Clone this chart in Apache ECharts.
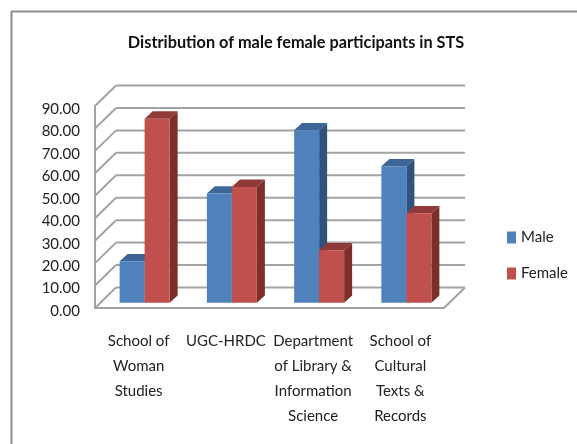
<!DOCTYPE html>
<html>
<head>
<meta charset="utf-8">
<style>
html, body { margin: 0; padding: 0; background: #fff; }
#chart { width: 577px; height: 444px; }
</style>
<script src="https://cdn.jsdelivr.net/npm/echarts@6/dist/echarts.min.js"></script>
</head>
<body>
<div id="chart"></div>
<script>
const categories = [
    'School of\nWoman\nStudies',
    'UGC-HRDC',
    'Department\nof Library &\nInformation\nScience',
    'School of\nCultural\nTexts &\nRecords'
]
const maleValues = [18.5, 48.6, 76.8, 60.8]
const femaleValues = [82, 51.6, 23.4, 39.8]
const yTicks = [0, 10, 20, 30, 40, 50, 60, 70, 80, 90]

const FONT = 'Lato, "Liberation Sans", sans-serif'
const GRAY = '#a3a3a3'

// pseudo-3d depth of the chart box and of the bars
const WALL_DX = 21
const WALL_DY = -20.5
const BAR_DX = 6
const BAR_DY = -5.3
const BAR_W = 25
const BAR_DEPTH_X = 8
const BAR_DEPTH_Y = -7.3

function wallItem(params, api) {
    const cs = params.coordSys
    const y = api.coord([0, api.value(0)])[1]
    const style = { stroke: GRAY, lineWidth: 2, fill: null }
    const children = [
        // side wall / floor edge
        { type: 'line', shape: { x1: cs.x, y1: y, x2: cs.x + WALL_DX, y2: y + WALL_DY }, style },
        // back wall
        { type: 'line', shape: { x1: cs.x + WALL_DX, y1: y + WALL_DY, x2: cs.x + cs.width + WALL_DX, y2: y + WALL_DY }, style }
    ]
    if (api.value(0) === 0) {
        children.push({ type: 'line', shape: { x1: cs.x + cs.width, y1: y, x2: cs.x + cs.width + WALL_DX, y2: y + WALL_DY }, style })
    }
    return { type: 'group', children }
}

function barItem(side, front, top, dark) {
    return function (params, api) {
        const p = api.coord([api.value(0), api.value(1)])
        const base = api.coord([api.value(0), 0])
        const l = side < 0 ? p[0] + BAR_DX - BAR_W : p[0] + BAR_DX
        const r = l + BAR_W
        const t = p[1] + BAR_DY
        const b = base[1] + BAR_DY
        const dx = BAR_DEPTH_X
        const dy = BAR_DEPTH_Y
        return {
            type: 'group',
            children: [
                { type: 'polygon', shape: { points: [[l, t], [r, t], [r + dx, t + dy], [l + dx, t + dy]] }, style: { fill: top } },
                { type: 'polygon', shape: { points: [[r, t], [r + dx, t + dy], [r + dx, b + dy], [r, b]] }, style: { fill: dark } },
                { type: 'rect', shape: { x: l, y: t, width: BAR_W, height: b - t }, style: { fill: front } }
            ]
        }
    }
}

const option = {
    animation: false,
    title: {
        text: 'Distribution of male female participants in STS',
        left: 291,
        top: 30,
        textAlign: 'center',
        textStyle: { fontFamily: FONT, fontSize: 16.3, fontWeight: 'bold', color: '#111' }
    },
    legend: {
        orient: 'vertical',
        left: 502,
        top: 225,
        itemWidth: 9,
        itemHeight: 12,
        itemGap: 21,
        icon: 'rect',
        data: [
            { name: 'Male', itemStyle: { color: '#4f81bd' } },
            { name: 'Female', itemStyle: { color: '#c0504d' } }
        ],
        textStyle: { fontFamily: FONT, fontSize: 15, color: '#222' }
    },
    grid: { left: 95, top: 106, width: 349, height: 202 },
    xAxis: {
        type: 'category',
        data: categories,
        axisLine: { lineStyle: { color: GRAY, width: 2 } },
        axisTick: { show: false },
        axisLabel: { interval: 0, margin: 21, fontFamily: FONT, fontSize: 15, lineHeight: 25, color: '#222' }
    },
    yAxis: {
        type: 'value',
        min: 0,
        max: 90,
        interval: 10,
        axisLine: { show: true, lineStyle: { color: GRAY, width: 2 } },
        axisTick: { show: false },
        splitLine: { show: false },
        axisLabel: {
            margin: 15,
            formatter: v => '{v|' + v.toFixed(2) + '}',
            // nudges the tick text a little below its gridline, as in the original
            rich: { v: { fontFamily: FONT, fontSize: 15, color: '#222', padding: [6, 0, 0, 0] } }
        }
    },
    series: [
        {
            name: 'wall',
            type: 'custom',
            silent: true,
            renderItem: wallItem,
            encode: { y: 0 },
            data: yTicks.map(v => [v]),
            z: 1
        },
        {
            name: 'Male',
            type: 'custom',
            renderItem: barItem(-1, '#4f81bd', '#3d6696', '#30527c'),
            encode: { x: 0, y: 1 },
            data: maleValues.map((v, i) => [i, v]),
            z: 2
        },
        {
            name: 'Female',
            type: 'custom',
            renderItem: barItem(1, '#c0504d', '#8f3a38', '#7b2e2c'),
            encode: { x: 0, y: 1 },
            data: femaleValues.map((v, i) => [i, v]),
            z: 3
        }
    ],
    graphic: [
        { type: 'line', shape: { x1: 11, y1: 11.5, x2: 577, y2: 11.5 }, style: { stroke: '#8c8c8c', lineWidth: 2 } },
        { type: 'line', shape: { x1: 11.5, y1: 11, x2: 11.5, y2: 444 }, style: { stroke: '#8c8c8c', lineWidth: 2 } }
    ]
}

const myChart = echarts.init(document.getElementById('chart'))
myChart.setOption(option)
</script>
</body>
</html>
